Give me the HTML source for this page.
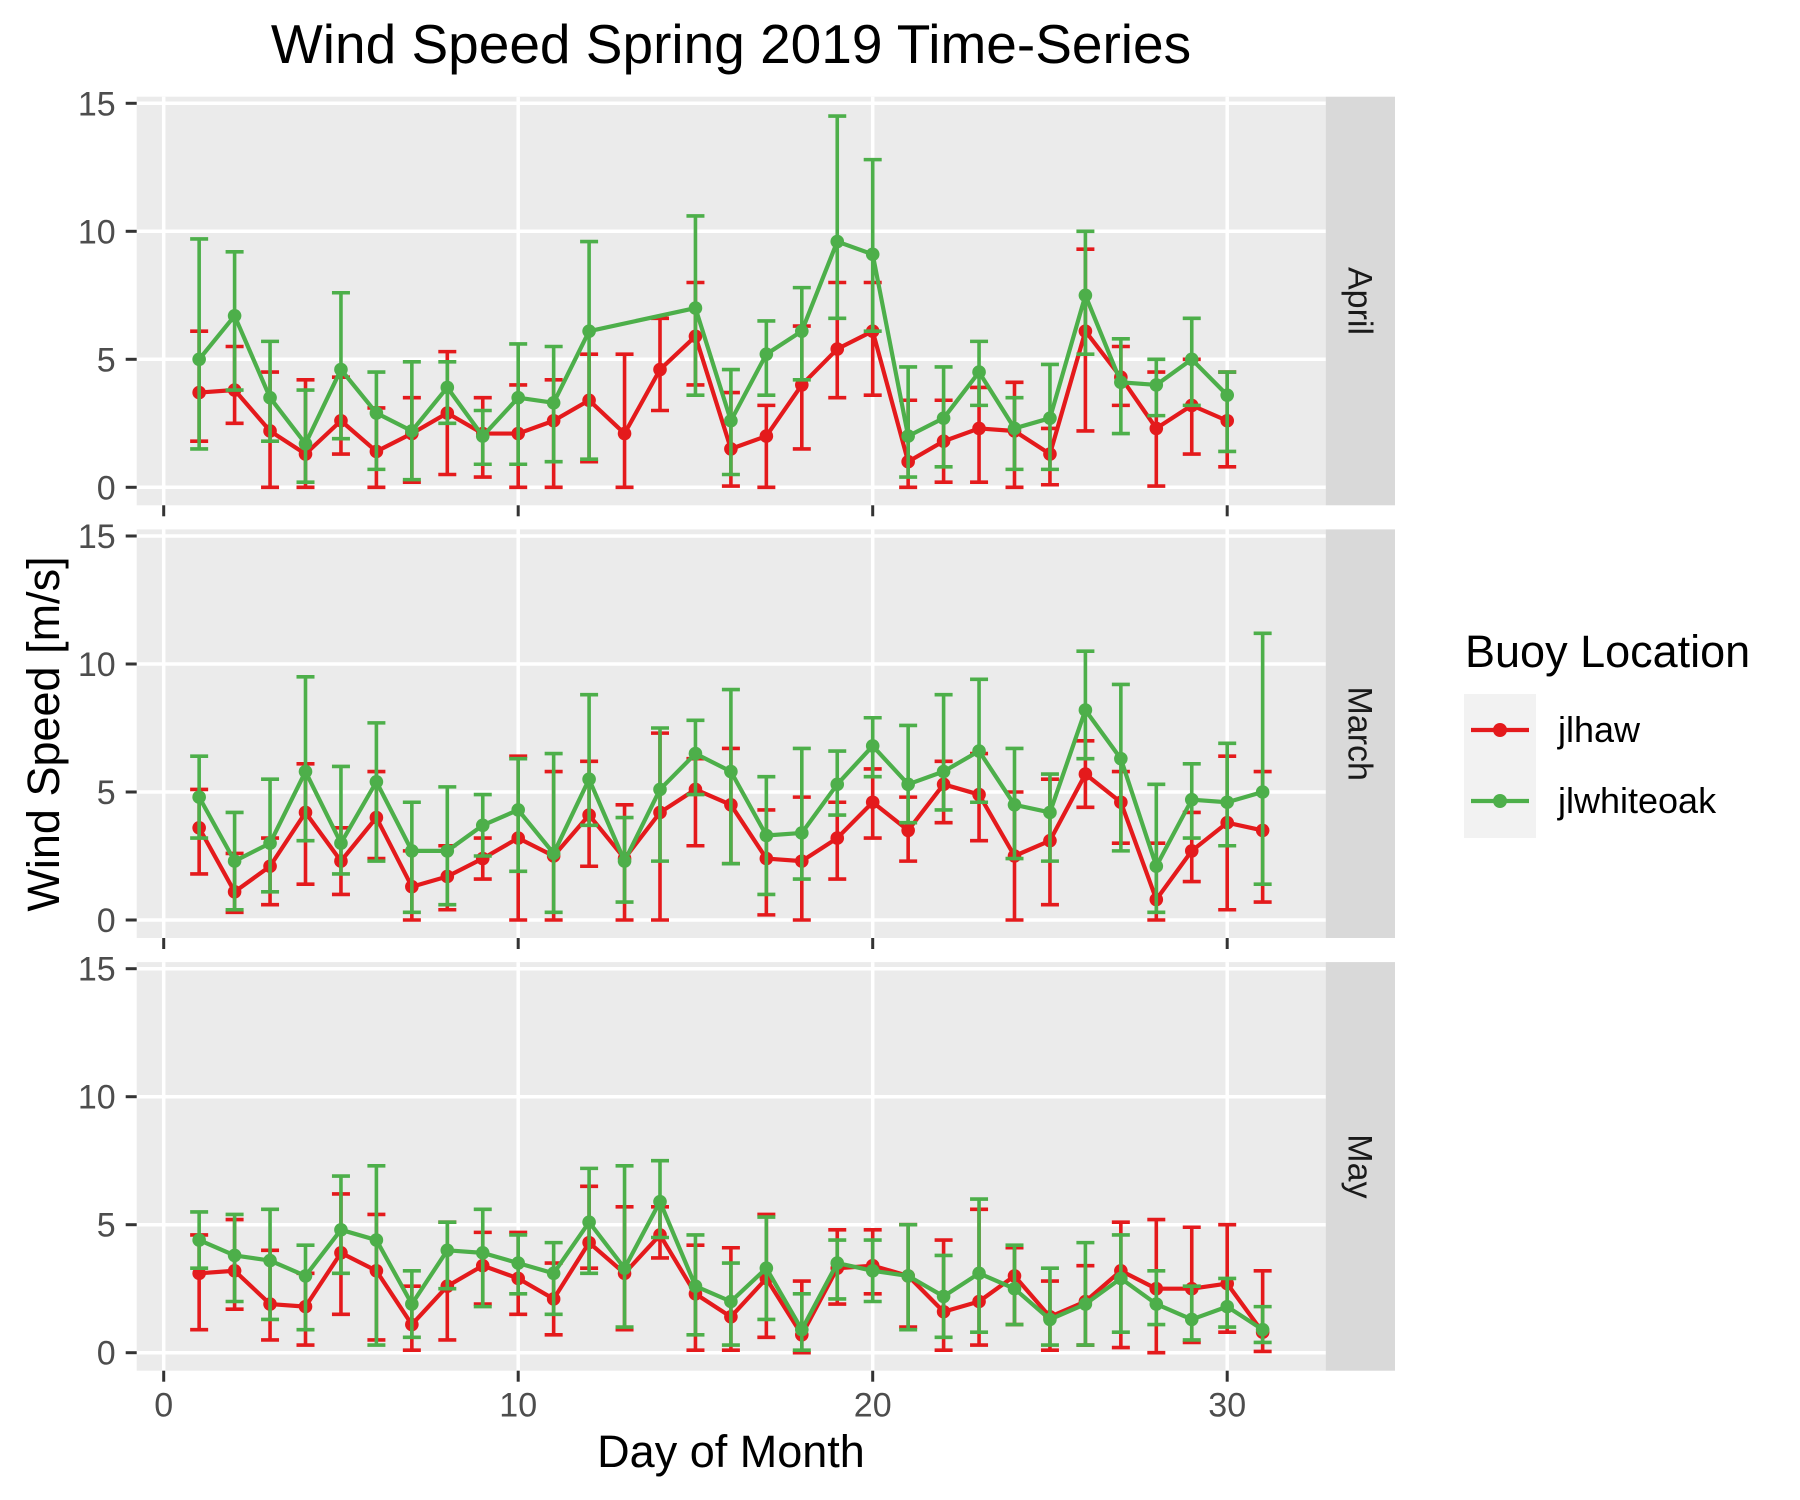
<!DOCTYPE html>
<html><head><meta charset="utf-8"><style>
html,body{margin:0;padding:0;background:#fff;}
svg{display:block;font-family:"Liberation Sans",Arial,sans-serif;}
</style></head>
<body>
<svg id="chart" width="1800" height="1500" viewBox="0 0 1800 1500" xmlns="http://www.w3.org/2000/svg">
<text x="731" y="63" font-size="55" text-anchor="middle" fill="#000">Wind Speed Spring 2019 Time-Series</text>
<text x="731" y="1467" font-size="45" text-anchor="middle" fill="#000">Day of Month</text>
<text transform="translate(59,734) rotate(-90)" font-size="45" text-anchor="middle" fill="#000">Wind Speed [m/s]</text>
<g>
<text x="1465" y="667" font-size="45" fill="#000">Buoy Location</text>
<rect x="1464" y="694" width="72" height="72" fill="#F2F2F2"/>
<rect x="1464" y="766" width="72" height="72" fill="#F2F2F2"/>
<line x1="1471" y1="730" x2="1529" y2="730" stroke="#E41A1C" stroke-width="4.2"/>
<circle cx="1500" cy="730" r="7" fill="#E41A1C"/>
<line x1="1471" y1="801" x2="1529" y2="801" stroke="#4DAF4A" stroke-width="4.2"/>
<circle cx="1500" cy="801" r="7" fill="#4DAF4A"/>
<text x="1558" y="742" font-size="36" fill="#000">jlhaw</text>
<text x="1558" y="813" font-size="36" fill="#000">jlwhiteoak</text>
</g>
<g id="panels"></g>
</svg>
<script>
const days = [1,2,3,4,5,6,7,8,9,10,11,12,13,14,15,16,17,18,19,20,21,22,23,24,25,26,27,28,29,30,31];
const months = ["April","March","May"];
const yTicks = [0,5,10,15];
const xTicks = [0,10,20,30];
// April
const aprHaw = [3.7,3.8,2.2,1.3,2.6,1.4,2.1,2.9,2.1,2.1,2.6,3.4,2.1,4.6,5.9,1.5,2.0,4.0,5.4,6.1,1.0,1.8,2.3,2.2,1.3,6.1,4.3,2.3,3.2,2.6,null];
const aprHawHi = [6.1,5.5,4.5,4.2,4.3,3.1,3.5,5.3,3.5,4.0,4.2,5.2,5.2,6.6,8.0,3.7,3.2,6.3,8.0,8.0,3.4,3.4,3.9,4.1,2.3,9.3,5.5,4.5,5.0,4.5,null];
const aprHawLo = [1.8,2.5,0,0,1.3,0,0.2,0.5,0.4,0,0,1.0,0,3.0,4.0,0.05,0,1.5,3.5,3.6,0,0.2,0.2,0,0.1,2.2,3.2,0.05,1.3,0.8,null];
const aprOak = [5.0,6.7,3.5,1.7,4.6,2.9,2.2,3.9,2.0,3.5,3.3,6.1,null,null,7.0,2.6,5.2,6.1,9.6,9.1,2.0,2.7,4.5,2.3,2.7,7.5,4.1,4.0,5.0,3.6,null];
const aprOakHi = [9.7,9.2,5.7,3.8,7.6,4.5,4.9,4.9,3.0,5.6,5.5,9.6,null,null,10.6,4.6,6.5,7.8,14.5,12.8,4.7,4.7,5.7,3.5,4.8,10.0,5.8,5.0,6.6,4.5,null];
const aprOakLo = [1.5,3.8,1.8,0.2,1.9,0.7,0.3,2.5,0.9,0.9,1.0,1.1,null,null,3.6,0.5,3.6,4.2,6.6,6.1,0.4,0.8,3.2,0.7,0.7,5.2,2.1,2.8,3.2,1.4,null];
// March
const marHaw = [3.6,1.1,2.1,4.2,2.3,4.0,1.3,1.7,2.4,3.2,2.5,4.1,2.4,4.2,5.1,4.5,2.4,2.3,3.2,4.6,3.5,5.3,4.9,2.5,3.1,5.7,4.6,0.8,2.7,3.8,3.5];
const marHawHi = [5.1,2.6,3.2,6.1,3.6,5.8,2.7,2.9,3.2,6.4,5.8,6.2,4.5,7.3,6.3,6.7,4.3,4.8,4.6,5.9,4.8,6.2,6.5,5.0,5.5,7.0,5.8,3.0,4.2,6.4,5.8];
const marHawLo = [1.8,0.3,0.6,1.4,1.0,2.4,0,0.4,1.6,0,0,2.1,0,0,2.9,2.2,0.2,0,1.6,3.2,2.3,3.8,3.1,0,0.6,4.4,3.0,0,1.5,0.4,0.7];
const marOak = [4.8,2.3,3.0,5.8,3.0,5.4,2.7,2.7,3.7,4.3,2.6,5.5,2.3,5.1,6.5,5.8,3.3,3.4,5.3,6.8,5.3,5.8,6.6,4.5,4.2,8.2,6.3,2.1,4.7,4.6,5.0];
const marOakHi = [6.4,4.2,5.5,9.5,6.0,7.7,4.6,5.2,4.9,6.3,6.5,8.8,4.0,7.5,7.8,9.0,5.6,6.7,6.6,7.9,7.6,8.8,9.4,6.7,5.7,10.5,9.2,5.3,6.1,6.9,11.2];
const marOakLo = [3.2,0.4,1.1,3.1,1.8,2.3,0.3,0.6,2.5,1.9,0.3,3.7,0.7,2.3,4.9,2.2,1.0,1.6,4.1,5.6,3.8,4.3,4.6,2.4,2.3,6.3,2.7,0.3,3.2,2.9,1.4];
// May
const mayHaw = [3.1,3.2,1.9,1.8,3.9,3.2,1.1,2.6,3.4,2.9,2.1,4.3,3.1,4.6,2.3,1.4,2.9,0.7,3.3,3.4,3.0,1.6,2.0,3.0,1.4,2.0,3.2,2.5,2.5,2.7,0.8];
const mayHawHi = [4.6,5.2,4.0,3.1,6.2,5.4,2.6,5.1,4.7,4.7,3.5,6.5,5.7,5.7,4.2,4.1,5.4,2.8,4.8,4.8,5.0,4.4,5.6,4.1,2.8,3.4,5.1,5.2,4.9,5.0,3.2];
const mayHawLo = [0.9,1.7,0.5,0.3,1.5,0.5,0.1,0.5,1.9,1.5,0.7,3.3,0.9,3.7,0.1,0.1,0.6,0,1.9,2.3,1.0,0.1,0.3,1.1,0.1,0.3,0.2,0,0.4,0.8,0.05];
const mayOak = [4.4,3.8,3.6,3.0,4.8,4.4,1.9,4.0,3.9,3.5,3.1,5.1,3.3,5.9,2.6,2.0,3.3,0.9,3.5,3.2,3.0,2.2,3.1,2.5,1.3,1.9,2.9,1.9,1.3,1.8,0.9];
const mayOakHi = [5.5,5.4,5.6,4.2,6.9,7.3,3.2,5.1,5.6,4.6,4.3,7.2,7.3,7.5,4.6,3.5,5.3,2.3,4.4,4.4,5.0,3.8,6.0,4.2,3.3,4.3,4.6,3.2,2.6,2.9,1.8];
const mayOakLo = [3.3,2.0,1.3,0.9,3.1,0.3,0.6,2.5,1.8,2.3,1.5,3.1,1.0,4.5,0.7,0.3,1.3,0.1,2.1,2.0,0.9,0.6,0.8,1.1,0.3,0.3,0.8,1.1,0.5,1.0,0.4];

const panelData = [
  {haw:[aprHaw,aprHawHi,aprHawLo], oak:[aprOak,aprOakHi,aprOakLo]},
  {haw:[marHaw,marHawHi,marHawLo], oak:[marOak,marOakHi,marOakLo]},
  {haw:[mayHaw,mayHawHi,mayHawLo], oak:[mayOak,mayOakHi,mayOakLo]}
];
const NS = "http://www.w3.org/2000/svg";
const root = document.getElementById("panels");
const PX0 = 136.7, PX1 = 1325.7, STRIPW = 69.3;
const panelTop = [96.7, 529.4, 962.1], PH = 408.6;
const xScale = d => 163.7 + d * 35.45;
function mk(tag, attrs, parent){
  const e = document.createElementNS(NS, tag);
  for (const k in attrs) e.setAttribute(k, attrs[k]);
  parent.appendChild(e);
  return e;
}
const RED = "#E41A1C", GREEN = "#4DAF4A";
months.forEach((m, pi) => {
  const top = panelTop[pi];
  const y0 = top + 390.6, unit = 25.6;
  const yScale = v => y0 - v * unit;
  const g = mk("g", {}, root);
  
  
  const bg = mk("rect", {x:PX0, y:top, width:PX1-PX0, height:PH, fill:"#EBEBEB"}, g);
  
  
  const strip = mk("rect", {x:PX1, y:top, width:STRIPW, height:PH, fill:"#D9D9D9"}, g);
  
  
  const st = mk("text", {transform:`translate(${PX1+STRIPW/2-12},${top+PH/2}) rotate(90)`, "font-size":34, "text-anchor":"middle", fill:"#1A1A1A"}, g);
  st.textContent = m;
  
  
  yTicks.forEach(t => {
    const y = yScale(t);
    const gl = mk("line", {x1:PX0, x2:PX1, y1:y, y2:y, stroke:"#fff", "stroke-width":3.5}, g);
    
    
    mk("line", {x1:PX0-11, x2:PX0, y1:y, y2:y, stroke:"#333", "stroke-width":3}, g);
    const tl = mk("text", {x:PX0-21, y:y+12, "font-size":34, "text-anchor":"end", fill:"#4D4D4D"}, g);
    tl.textContent = t;
    
    
  });
  xTicks.forEach(t => {
    const x = xScale(t);
    const gl = mk("line", {x1:x, x2:x, y1:top, y2:top+PH, stroke:"#fff", "stroke-width":3.5}, g);
    
    
    mk("line", {x1:x, x2:x, y1:top+PH, y2:top+PH+11, stroke:"#333", "stroke-width":3}, g);
    if (pi === 2) {
      const tl = mk("text", {x:x, y:top+PH+46, "font-size":34, "text-anchor":"middle", fill:"#4D4D4D"}, g);
      tl.textContent = t;
      
      
    }
  });
  [["haw", RED, "jlhaw"], ["oak", GREEN, "jlwhiteoak"]].forEach(([key, col, nm]) => {
    const [mean, hi, lo] = panelData[pi][key];
    const sg = mk("g", {}, g);
    
    
    days.forEach((d, i) => {
      if (mean[i] == null) return;
      const x = xScale(d), yh = yScale(hi[i]), yl = yScale(lo[i]);
      const eb = mk("path", {d:`M${x-9},${yh}H${x+9}M${x},${yh}V${yl}M${x-9},${yl}H${x+9}`, stroke:col, "stroke-width":3.6, fill:"none"}, sg);
      
      
    });
    let dstr = "";
    days.forEach((d, i) => {
      if (mean[i] == null) return;
      dstr += (dstr ? "L" : "M") + xScale(d) + "," + yScale(mean[i]);
    });
    const ln = mk("path", {d:dstr, stroke:col, "stroke-width":4.2, fill:"none", "stroke-linejoin":"round"}, sg);
    
    
    days.forEach((d, i) => {
      if (mean[i] == null) return;
      const c = mk("circle", {cx:xScale(d), cy:yScale(mean[i]), r:6.8, fill:col}, sg);
      
      
    });
  });
});
</script>
</body></html>
